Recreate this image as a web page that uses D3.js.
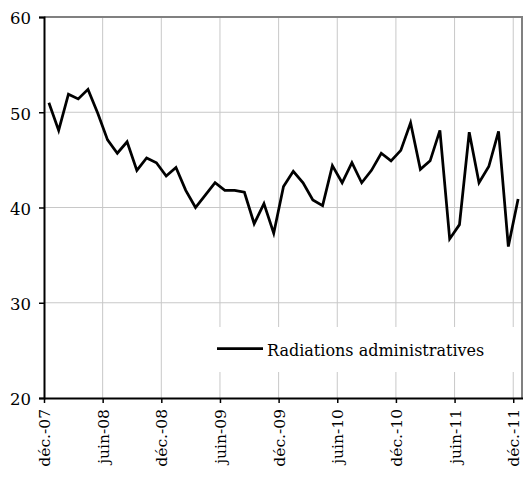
<!DOCTYPE html>
<html><head><meta charset="utf-8">
<script src="https://cdn.jsdelivr.net/npm/d3@7"></script>
<style>body{margin:0;background:#fff} text{font-family:"DejaVu Serif",serif;}</style>
</head><body>
<svg id="c" width="523" height="478"></svg>
<script>
const seriesName = "Radiations administratives";
const values = [51.0,48.1,51.9,51.4,52.4,49.9,47.1,45.7,46.9,43.9,45.2,44.7,43.3,44.2,41.8,40.0,41.3,42.6,41.8,41.8,41.6,38.3,40.4,37.3,42.2,43.8,42.6,40.8,40.2,44.4,42.6,44.7,42.6,43.9,45.7,44.9,46.0,48.9,44.0,44.9,48.1,36.7,38.2,47.9,42.6,44.3,48.0,35.9,40.9];
const tickLabels = ["déc.-07","juin-08","déc.-08","juin-09","déc.-09","juin-10","déc.-10","juin-11","déc.-11"];
const tickIndex = [0,6,12,18,24,30,36,42,48];
const yTicks = [20,30,40,50,60];

const svg = d3.select("#c");
const L=44, T=17, R=523, B=398;
const x = d3.scaleLinear().domain([-0.5, values.length-0.5]).range([L,R]);
const y = d3.scaleLinear().domain([20,60]).range([B,T]);

// gridlines
svg.append("g").selectAll("line").data(yTicks.slice(1,-1)).join("line")
  .attr("x1",L).attr("x2",R).attr("y1",d=>y(d)).attr("y2",d=>y(d))
  .attr("stroke","#c8c8c8").attr("stroke-width",1);
svg.append("g").selectAll("line").data(tickIndex.slice(1)).join("line")
  .attr("x1",d=>x(d-0.5)).attr("x2",d=>x(d-0.5)).attr("y1",T).attr("y2",B)
  .attr("stroke","#c8c8c8").attr("stroke-width",1);

// top/right border
svg.append("path").attr("d",`M${L},${T}H${R-1}V${B}`).attr("fill","none").attr("stroke","#808080").attr("stroke-width",2);

// line
svg.append("path").datum(values)
  .attr("d", d3.line().x((d,i)=>x(i)).y(d=>y(d)))
  .attr("fill","none").attr("stroke","#000").attr("stroke-width",2.75).attr("stroke-linejoin","miter");

// axes
const yAxis = d3.axisLeft(y).tickValues(yTicks).tickSize(5).tickPadding(8);
const gy = svg.append("g").attr("transform",`translate(${L},0)`).call(yAxis);
gy.attr("font-family",null);
gy.select(".domain").attr("stroke","#000").attr("stroke-width",2);
gy.selectAll(".tick line").attr("stroke","#000").attr("stroke-width",1.5);
gy.selectAll("text").attr("font-size",16.5).attr("fill","#000").attr("dy","0.42em");

const xAxis = d3.axisBottom(x).tickValues(tickIndex.map(i=>i-0.5)).tickFormat((d,i)=>tickLabels[i]).tickSize(5).tickSizeOuter(0);
const gx = svg.append("g").attr("transform",`translate(0,${B})`).call(xAxis);
gx.attr("font-family",null);
gx.select(".domain").attr("stroke","#000").attr("stroke-width",2);
gx.selectAll(".tick line").attr("stroke","#000").attr("stroke-width",1.5);
gx.selectAll("text").attr("font-size",15.5).attr("fill","#000")
  .attr("transform","rotate(-90)").attr("text-anchor","end").attr("x",-11).attr("y",0).attr("dy","0.35em");

// legend
const lg = svg.append("g");
lg.append("rect").attr("x",214).attr("y",327).attr("width",R-2-214).attr("height",45).attr("fill","#fff");
lg.append("line").attr("x1",217).attr("x2",263).attr("y1",348.5).attr("y2",348.5).attr("stroke","#000").attr("stroke-width",2.75);
lg.append("text").attr("x",267).attr("y",355.5).attr("font-size",16).text(seriesName);
</script>
</body></html>
